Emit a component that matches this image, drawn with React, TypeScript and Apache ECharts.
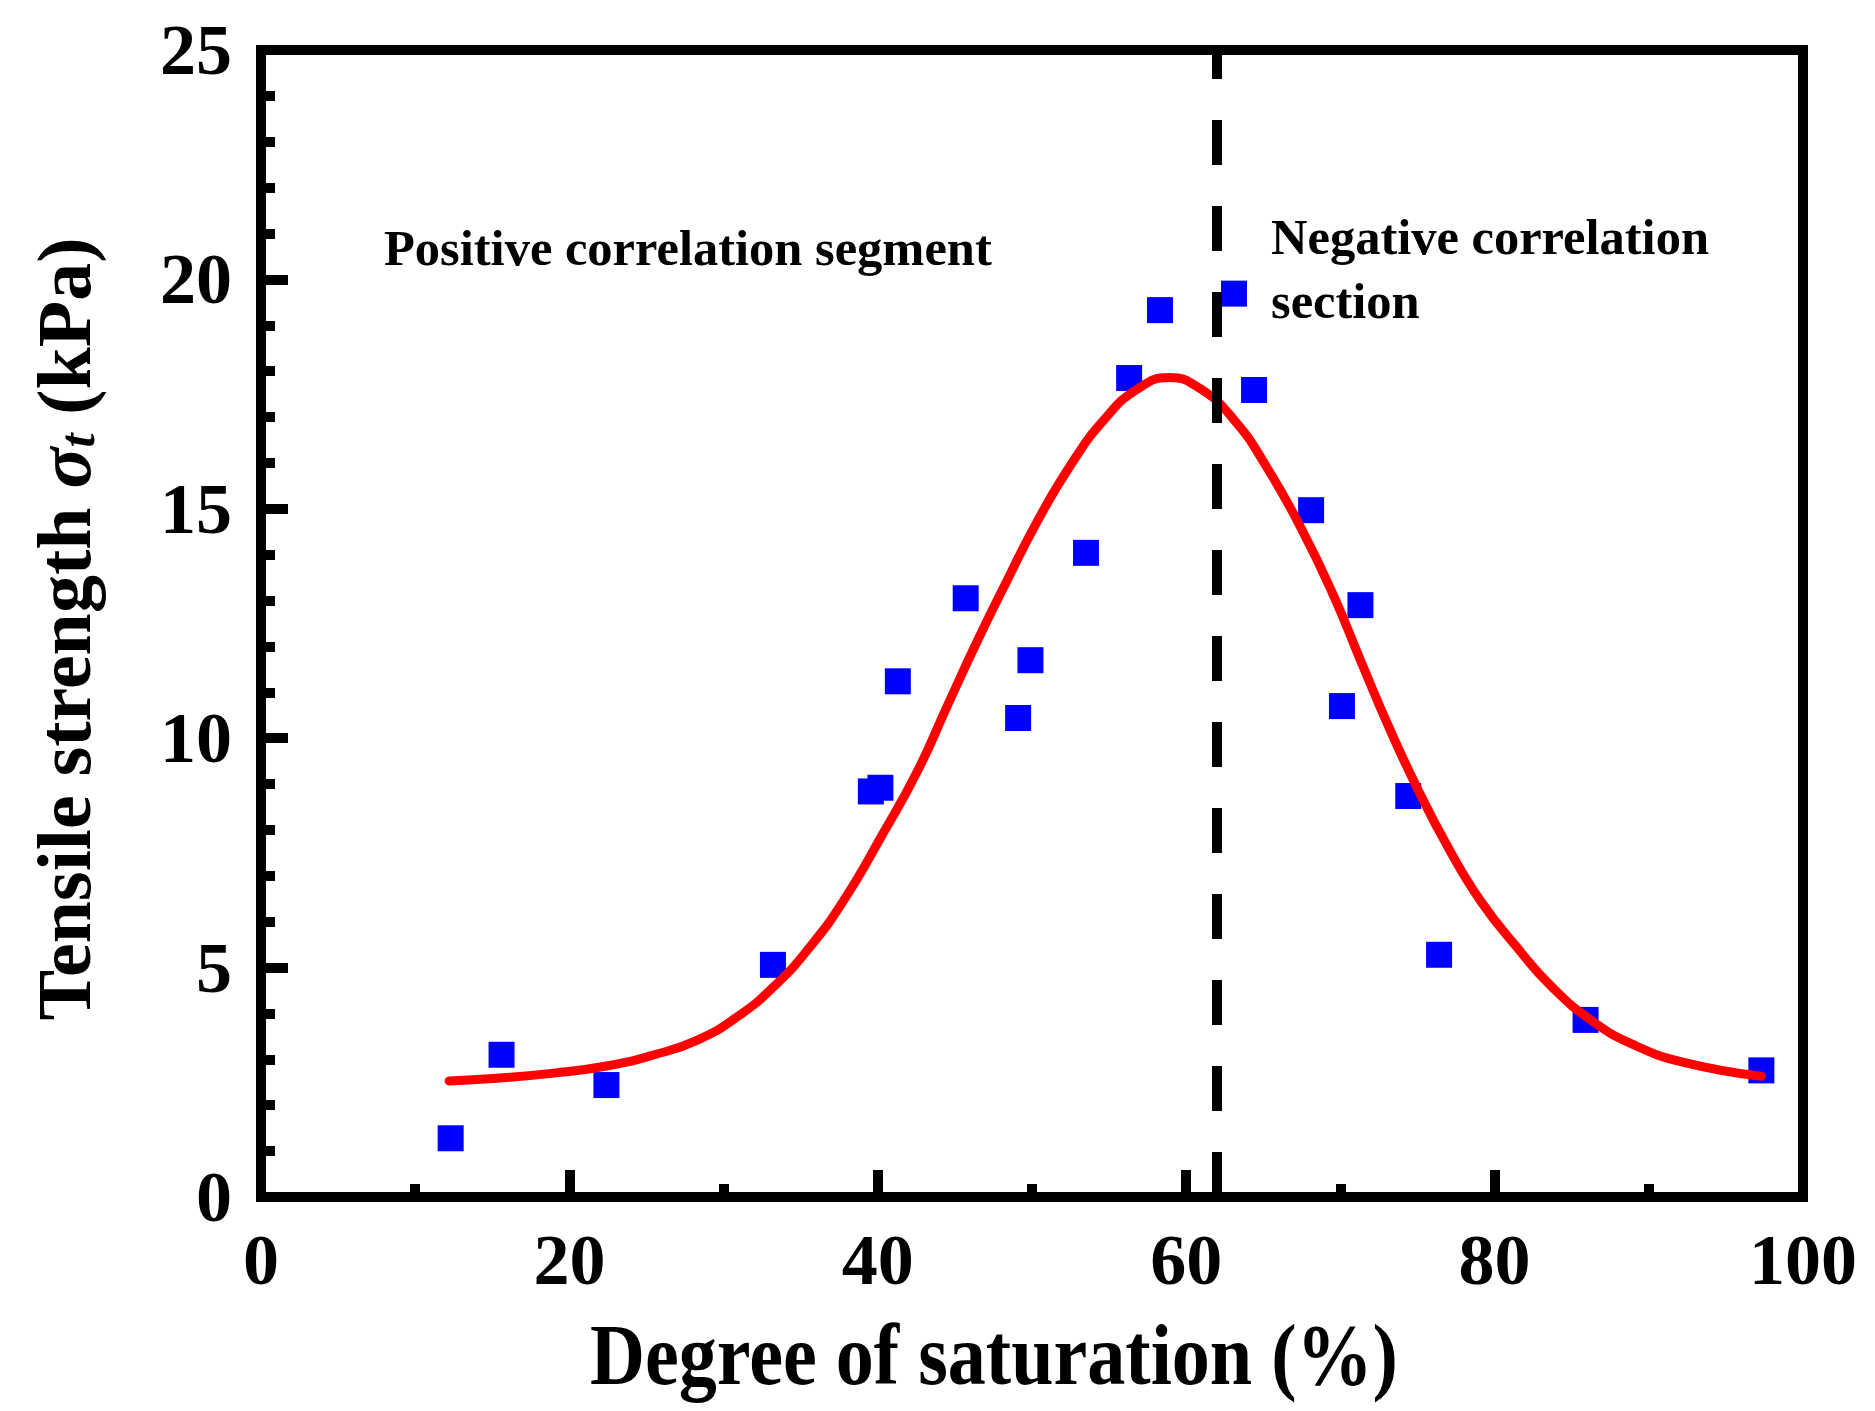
import React, { useEffect, useRef } from "react";
import * as echarts from "echarts";

// ---- data ----
const xTickLabels = ["0", "20", "40", "60", "80", "100"];
const yTickLabels = ["0", "5", "10", "15", "20", "25"];

const measuredSaturation = [12.3, 15.6, 22.4, 33.2, 39.55, 40.17, 41.3, 45.7, 49.1, 49.9, 53.5, 56.3, 58.3, 63.1, 64.4, 68.1, 71.3, 70.1, 74.4, 76.4, 85.9, 97.3];
const measuredStrength = [1.28, 3.1, 2.44, 5.06, 8.84, 8.92, 11.24, 13.05, 10.44, 11.7, 14.04, 17.85, 19.33, 19.69, 17.59, 14.97, 12.9, 10.7, 8.74, 5.28, 3.86, 2.76];

const fitSaturation = [12.2, 15.3, 19.0, 22.5, 25.5, 28.3, 30.9, 33.3, 35.6, 37.8, 40.3, 42.6, 44.5, 46.5, 48.4, 50.3, 52.5, 54.7, 56.8, 58.9, 60.9, 63.1, 65.2, 67.4, 69.5, 71.3, 73.0, 75.0, 77.1, 79.1, 81.4, 83.8, 86.4, 89.0, 92.2, 97.3];
const fitStrength = [2.53, 2.59, 2.7, 2.86, 3.1, 3.42, 3.93, 4.6, 5.45, 6.47, 7.9, 9.3, 10.7, 12.15, 13.45, 14.7, 15.95, 16.95, 17.6, 17.86, 17.62, 16.94, 15.92, 14.61, 13.15, 11.7, 10.35, 8.9, 7.55, 6.45, 5.46, 4.55, 3.82, 3.32, 2.94, 2.63];

const boundarySaturation = [62];

const positiveLabel = "Positive correlation segment";
const negativeLabel = ["Negative correlation", "section"];
const xTitle = "Degree of saturation (%)";

const FONT = '"Liberation Serif", "Times New Roman", serif';

export default function App() {
  const ref = useRef<HTMLDivElement>(null);

  useEffect(() => {
    document.body.style.margin = "0";
    if (!ref.current) return;
    const chart = echarts.init(ref.current, undefined, { renderer: "svg" });

    const scatterData = measuredSaturation.map((x, i) => [x, measuredStrength[i]]);
    const fitData = fitSaturation.map((x, i) => [x, fitStrength[i]]);

    const labelStyle = {
      fontSize: 72,
      fontWeight: "bold" as const,
      fontFamily: FONT,
      color: "#000",
    };

    chart.setOption({
      animation: false,
      backgroundColor: "#fff",
      grid: {
        left: 261,
        right: 72,
        top: 50,
        bottom: 214,
        show: true,
        borderWidth: 10,
        borderColor: "#000",
        backgroundColor: "transparent",
      },
      xAxis: {
        type: "value",
        min: 0,
        max: 100,
        interval: 20,
        axisLine: { show: false },
        axisTick: { show: true, inside: true, length: 27, lineStyle: { width: 10, color: "#000" } },
        minorTick: { show: true, splitNumber: 2, length: 13, lineStyle: { width: 10, color: "#000" } },
        splitLine: { show: false },
        minorSplitLine: { show: false },
        axisLabel: {
          ...labelStyle,
          margin: 27,
          formatter: (v: number) => xTickLabels[Math.round(v / 20)] ?? String(v),
        },
      },
      yAxis: {
        type: "value",
        min: 0,
        max: 25,
        interval: 5,
        axisLine: { show: false },
        axisTick: { show: true, inside: true, length: 27, lineStyle: { width: 10, color: "#000" } },
        minorTick: { show: true, splitNumber: 5, length: 14, lineStyle: { width: 10, color: "#000" } },
        splitLine: { show: false },
        minorSplitLine: { show: false },
        axisLabel: {
          ...labelStyle,
          margin: 29,
          formatter: (v: number) => yTickLabels[Math.round(v / 5)] ?? String(v),
        },
      },
      series: [
        {
          type: "scatter",
          data: scatterData,
          symbol: "rect",
          symbolSize: 26,
          itemStyle: { color: "#0000FF", opacity: 1 },
          z: 2,
          markLine: {
            silent: true,
            animation: false,
            symbol: ["none", "none"],
            label: { show: false },
            lineStyle: { color: "#000", width: 10, type: [45, 41], opacity: 1 },
            data: boundarySaturation.map((v) => ({ xAxis: v })),
            z: 5,
          },
        },
        {
          type: "line",
          data: fitData,
          smooth: 0.5,
          showSymbol: false,
          symbol: "none",
          lineStyle: { color: "#FF0000", width: 9, cap: "round", join: "round", opacity: 1 },
          z: 3,
        },
      ],
      graphic: [
        {
          type: "text",
          x: 384,
          y: 248,
          style: {
            text: positiveLabel,
            fontSize: 50.5,
            fontWeight: "bold",
            fontFamily: FONT,
            fill: "#000",
            align: "left",
            verticalAlign: "middle",
          },
        },
        {
          type: "text",
          x: 1271,
          y: 237,
          style: {
            text: negativeLabel[0],
            fontSize: 50.5,
            fontWeight: "bold",
            fontFamily: FONT,
            fill: "#000",
            align: "left",
            verticalAlign: "middle",
          },
        },
        {
          type: "text",
          x: 1271,
          y: 301,
          style: {
            text: negativeLabel[1],
            fontSize: 50.5,
            fontWeight: "bold",
            fontFamily: FONT,
            fill: "#000",
            align: "left",
            verticalAlign: "middle",
          },
        },
        {
          type: "text",
          x: 994,
          y: 1355,
          scaleX: 0.885,
          style: {
            text: xTitle,
            fontSize: 86,
            fontWeight: "bold",
            fontFamily: FONT,
            fill: "#000",
            align: "center",
            verticalAlign: "middle",
          },
        },
        {
          type: "text",
          x: 64,
          y: 629,
          rotation: Math.PI / 2,
          style: {
            text: "{a|Tensile strength }{s|σ}{t|t}{a| (kPa)}",
            align: "center",
            verticalAlign: "middle",
            fill: "#000",
            rich: {
              a: { fontSize: 76, fontWeight: "bold", fontFamily: FONT, fill: "#000" },
              s: { fontSize: 76, fontWeight: "bold", fontStyle: "italic", fontFamily: FONT, fill: "#000" },
              t: { fontSize: 50, fontWeight: "bold", fontStyle: "italic", fontFamily: FONT, fill: "#000", verticalAlign: "bottom" },
            },
          },
        },
      ],
    });

    return () => chart.dispose();
  }, []);

  return (
    <div
      ref={ref}
      style={{ position: "absolute", left: 0, top: 0, width: 1875, height: 1411 }}
    />
  );
}
